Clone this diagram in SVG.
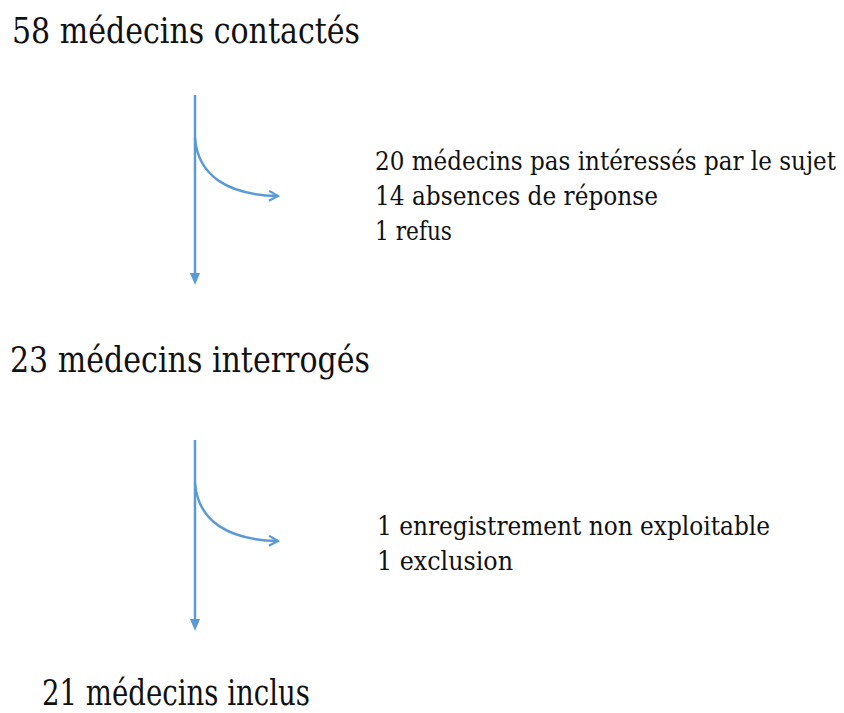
<svg xmlns="http://www.w3.org/2000/svg" width="844" height="713" viewBox="0 0 844 713">
<style>
.ln{stroke:#5b9bd5;stroke-width:2.5;fill:none}
</style>
<defs>
<marker id="chev" markerWidth="12" markerHeight="12" refX="10" refY="6" orient="auto" markerUnits="userSpaceOnUse" viewBox="0 0 12 12">
<path d="M1,1 L10,6 L1,11" fill="none" stroke="#5b9bd5" stroke-width="2.2"/>
</marker>
</defs>
<g font-family="DejaVu Serif, Liberation Serif, serif" fill="#111">
<g id="n1"><text font-size="35" x="12" y="43" textLength="348" lengthAdjust="spacingAndGlyphs">58 médecins contactés</text></g>
<g id="n2"><text font-size="26" x="375" y="170" textLength="461" lengthAdjust="spacingAndGlyphs">20 médecins pas intéressés par le sujet</text>
<text font-size="26" x="375" y="205" textLength="283" lengthAdjust="spacingAndGlyphs">14 absences de réponse</text>
<text font-size="26" x="375" y="240" textLength="77" lengthAdjust="spacingAndGlyphs">1 refus</text></g>
<g id="n3"><text font-size="35" x="10" y="372" textLength="360" lengthAdjust="spacingAndGlyphs">23 médecins interrogés</text></g>
<g id="n4"><text font-size="26" x="377" y="535" textLength="393" lengthAdjust="spacingAndGlyphs">1 enregistrement non exploitable</text>
<text font-size="26" x="377" y="570" textLength="136" lengthAdjust="spacingAndGlyphs">1 exclusion</text></g>
<g id="n5"><text font-size="35" x="42" y="705" textLength="268" lengthAdjust="spacingAndGlyphs">21 médecins inclus</text></g>
</g>
<g id="connectors">
<line class="ln" x1="195" y1="95" x2="195" y2="276"/>
<path d="M190,273 L200,273 L195,285 Z" fill="#5b9bd5"/>
<path class="ln" d="M195,138 C198,176 228,195 278,196" marker-end="url(#chev)"/>
<line class="ln" x1="195" y1="440" x2="195" y2="622"/>
<path d="M190,619 L200,619 L195,631 Z" fill="#5b9bd5"/>
<path class="ln" d="M195,483 C198,521 228,540 278,541" marker-end="url(#chev)"/>
</g>
</svg>
